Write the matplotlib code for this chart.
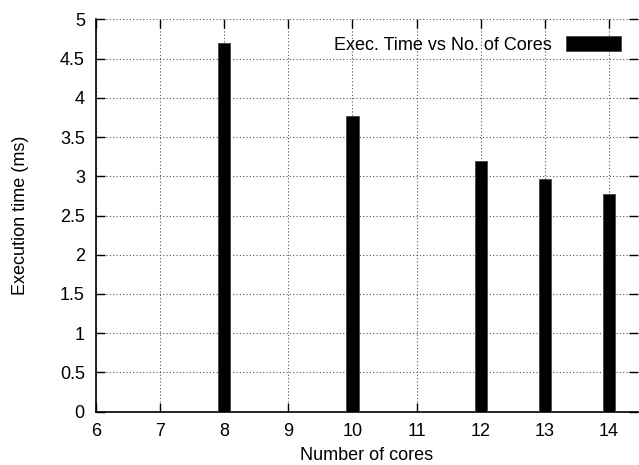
import matplotlib.pyplot as plt
from matplotlib.ticker import MultipleLocator

cores = [8, 10, 12, 13, 14]
exec_time = [4.70, 3.77, 3.20, 2.96, 2.78]
label = "Exec. Time vs No. of Cores"

plt.rcParams["font.family"] = ["Liberation Sans", "DejaVu Sans"]
plt.rcParams["font.size"] = 13

fig = plt.figure(figsize=(6.39, 4.65), dpi=100)
ax = fig.add_axes([0.1502, 0.1146, 0.848, 0.8439])

ax.bar(cores, exec_time, width=0.19, color="black", edgecolor="#444444",
       linewidth=0.6, label=label, zorder=3)

ax.set_xlim(6, 14.45)
ax.set_ylim(0, 5)
ax.xaxis.set_major_locator(MultipleLocator(1))
ax.yaxis.set_major_locator(MultipleLocator(0.5))
ax.yaxis.set_major_formatter(plt.FuncFormatter(lambda v, p: f"{v:g}"))

ax.grid(True, linestyle=(0, (1, 2)), color="#555555", linewidth=0.8, zorder=0)
ax.set_axisbelow(True)

for s in ["top", "right"]:
    ax.spines[s].set_visible(False)
for s in ["left", "bottom"]:
    ax.spines[s].set_linewidth(1.2)

ax.tick_params(direction="in", length=6.5, width=1, top=True, right=True,
               labelsize=13, pad=8)

ax.set_xlabel("Number of cores", labelpad=5)
ax.set_ylabel("Execution time (ms)", labelpad=22)

ax.legend(loc="upper right", frameon=False, markerfirst=False,
          handlelength=3.05, handleheight=0.9, handletextpad=0.75,
          borderaxespad=0.55, fontsize=13)

fig.savefig("out.png", dpi=100)
